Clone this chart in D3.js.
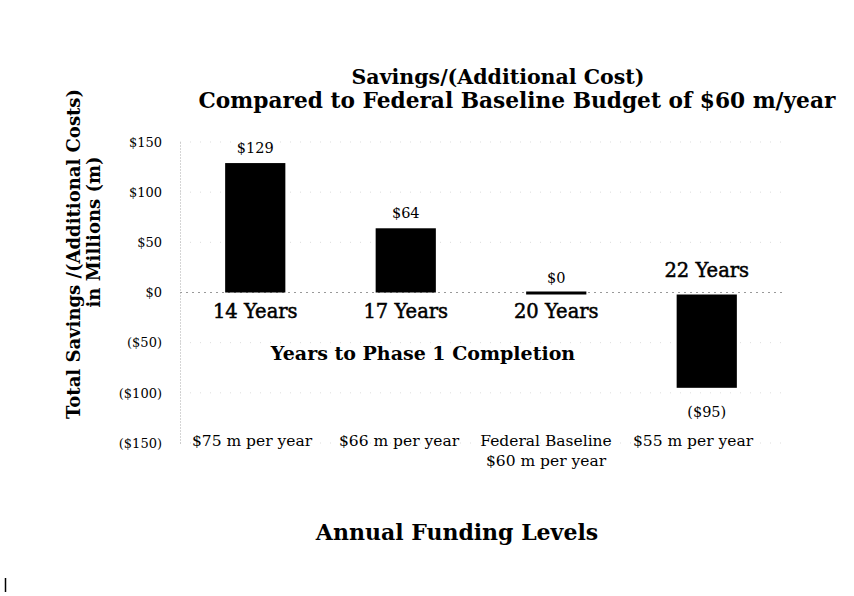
<!DOCTYPE html>
<html><head><meta charset="utf-8">
<script src="https://cdn.jsdelivr.net/npm/d3@7"></script>
<style>body{margin:0;background:#fff}svg{display:block}text{font-family:"DejaVu Serif",serif;fill:#000}</style>
</head><body>
<svg id="c" width="854" height="596"></svg>
<script>
const fundingLabels = ["$75 m per year", "$66 m per year", "Federal Baseline\n$60 m per year", "$55 m per year"];
const yearsLabels = ["14 Years", "17 Years", "20 Years", "22 Years"];
const savings = [129, 64, 0, -95];
const valueLabels = ["$129", "$64", "$0", "($95)"];
const yTicks = [150, 100, 50, 0, -50, -100, -150];

const svg = d3.select("#c");
const x = d3.scaleBand().domain(d3.range(savings.length)).range([180, 782]).paddingInner(0.6).paddingOuter(0.3);
const xLab = d3.scalePoint().domain(d3.range(fundingLabels.length)).range([252, 693]);
const y = d3.scaleLinear().domain([-150, 150]).range([443, 142]);
const fmt = v => v < 0 ? "($" + Math.abs(v) + ")" : "$" + v;

// gridlines
svg.append("g").selectAll("line").data(yTicks).join("line")
  .attr("x1", 180).attr("x2", 782).attr("y1", d => y(d)).attr("y2", d => y(d))
  .attr("stroke", d => d === 0 ? "#999" : "#ddd").attr("stroke-width", 1)
  .attr("stroke-dasharray", d => d === 0 ? "2,4" : "1,9");

// y axis
const ya = svg.append("g").attr("transform", "translate(180,0)")
  .call(d3.axisLeft(y).tickValues(yTicks).tickFormat(fmt).tickSize(0).tickPadding(18));
ya.select(".domain").attr("stroke", "#aaa").attr("stroke-dasharray", "1,2");
ya.selectAll("text").style("font-family", '"DejaVu Serif",serif').style("font-size", "13px").attr("fill", "#000");

// bars
svg.append("g").selectAll("rect").data(savings).join("rect")
  .attr("x", (d, i) => x(i)).attr("width", x.bandwidth())
  .attr("y", d => d === 0 ? y(0) - 1 : (d > 0 ? y(d) : y(0) + 2))
  .attr("height", d => d === 0 ? 3 : Math.abs(y(d) - y(0)) - (d < 0 ? 2 : 0))
  .attr("fill", "#000");

// value labels
svg.append("g").selectAll("text").data(savings).join("text")
  .attr("x", (d, i) => x(i) + x.bandwidth() / 2)
  .attr("y", d => d >= 0 ? y(d) - 10 : y(d) + 29)
  .attr("text-anchor", "middle").style("font-size", "14.5px")
  .text((d, i) => valueLabels[i]);

// years labels
svg.append("g").selectAll("text").data(yearsLabels).join("text")
  .attr("x", (d, i) => x(i) + x.bandwidth() / 2)
  .attr("y", (d, i) => savings[i] < 0 ? y(0) - 16 : y(0) + 25)
  .attr("text-anchor", "middle").style("font-size", "19.5px")
  .attr("stroke", "#000").attr("stroke-width", 0.5)
  .text(d => d);

// funding labels
const fl = svg.append("g").selectAll("text").data(fundingLabels).join("text")
  .attr("x", (d, i) => xLab(i)).attr("y", 446)
  .attr("text-anchor", "middle").style("font-size", "15.5px");
fl.each(function(d) {
  const t = d3.select(this);
  d.split("\n").forEach((s, k) => t.append("tspan").attr("x", t.attr("x")).attr("dy", k ? 20 : 0).text(s));
});

// titles
svg.append("text").attr("x", 498).attr("y", 84).attr("text-anchor", "middle")
  .style("font-size", "20.5px").style("font-weight", "bold").text("Savings/(Additional Cost)");
svg.append("text").attr("x", 517).attr("y", 108).attr("text-anchor", "middle")
  .style("font-size", "21.7px").style("font-weight", "bold").text("Compared to Federal Baseline Budget of $60 m/year");
svg.append("text").attr("x", 423).attr("y", 360).attr("text-anchor", "middle")
  .style("font-size", "19px").style("font-weight", "bold").text("Years to Phase 1 Completion");
svg.append("text").attr("x", 457).attr("y", 540).attr("text-anchor", "middle")
  .style("font-size", "22px").style("font-weight", "bold").text("Annual Funding Levels");
svg.append("text").attr("transform", "translate(80,254) rotate(-90)").attr("text-anchor", "middle")
  .style("font-size", "18px").style("font-weight", "bold").text("Total Savings /(Additional Costs)");
svg.append("text").attr("transform", "translate(100,232) rotate(-90)").attr("text-anchor", "middle")
  .style("font-size", "18px").style("font-weight", "bold").text("in Millions (m)");

svg.append("line").attr("x1", 5.5).attr("x2", 5.5).attr("y1", 578).attr("y2", 592).attr("stroke", "#000").attr("stroke-width", 1.5);
</script>
</body></html>
